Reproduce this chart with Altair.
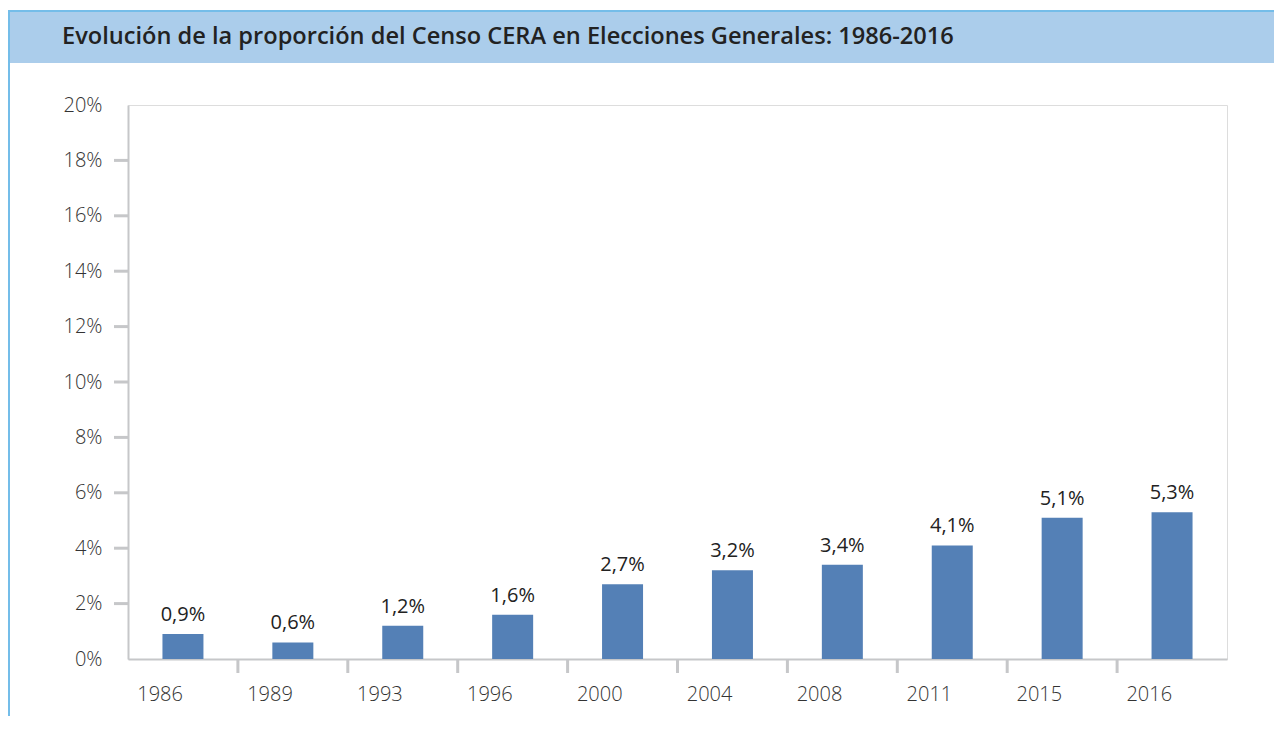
import altair as alt
import pandas as pd

years = ["1986", "1989", "1993", "1996", "2000", "2004", "2008", "2011", "2015", "2016"]
values = [0.9, 0.6, 1.2, 1.6, 2.7, 3.2, 3.4, 4.1, 5.1, 5.3]
y_ticks = [0, 2, 4, 6, 8, 10, 12, 14, 16, 18, 20]
y_tick_marks = [2, 4, 6, 8, 10, 12, 14, 16, 18]
title_text = "Evolución de la proporción del Censo CERA en Elecciones Generales: 1986-2016"

W, H = 1099, 554
PL, PT, PR, PB = 120, 97, 47, 57

df = pd.DataFrame({
    "year": years,
    "value": values,
    "label": [f"{v:.1f}".replace(".", ",") + "%" for v in values],
})
df_xt = pd.DataFrame({"year": years[1:]})
df_yt = pd.DataFrame({"v": y_tick_marks})

GRAY = "#c6c7c9"
FONT = "Open Sans"

xscale = alt.Scale(domain=years, paddingInner=0, paddingOuter=0)
yscale = alt.Scale(domain=[0, 20], nice=False)

bars = alt.Chart(df).mark_bar(size=41, color="#5480b6").encode(
    x=alt.X("year:O", scale=xscale, sort=years,
            axis=alt.Axis(title=None, labelAngle=0, ticks=False, domain=True,
                          domainColor=GRAY, domainWidth=2, labelPadding=35,
                          labelFont=FONT, labelFontSize=20, labelFontWeight=300,
                          labelColor="#333333")),
    y=alt.Y("value:Q", scale=yscale,
            axis=alt.Axis(title=None, values=y_ticks, ticks=False, grid=False,
                          domain=True, domainColor=GRAY, domainWidth=2,
                          labelPadding=26, labelExpr="datum.value + '%'",
                          labelFont=FONT, labelFontSize=20, labelFontWeight=300,
                          labelColor="#333333")),
)

labels = alt.Chart(df).mark_text(dy=-9, baseline="bottom", font=FONT, fontSize=20,
                                 color="#222222").encode(
    x=alt.X("year:O", scale=xscale, sort=years),
    y=alt.Y("value:Q", scale=yscale),
    text="label:N",
)

xticks = alt.Chart(df_xt).mark_rule(color=GRAY, strokeWidth=3).encode(
    x=alt.X("year:O", scale=xscale, sort=years, bandPosition=0),
    y=alt.value(H),
    y2=alt.value(H + 14),
)

yticks = alt.Chart(df_yt).mark_rule(color=GRAY, strokeWidth=3).encode(
    y=alt.Y("v:Q", scale=yscale),
    x=alt.value(-14),
    x2=alt.value(0),
)

header = alt.Chart(df_xt.head(1)).mark_rect(color="#abcdeb", clip=False).encode(
    x=alt.value(-PL), x2=alt.value(W + PR),
    y=alt.value(-95), y2=alt.value(-42),
)
header_line = alt.Chart(df_xt.head(1)).mark_rule(color="#74bde9", strokeWidth=2).encode(
    x=alt.value(-PL), x2=alt.value(W + PR),
    y=alt.value(-94),
)
left_line = alt.Chart(df_xt.head(1)).mark_rule(color="#74bde9", strokeWidth=2).encode(
    x=alt.value(-PL + 1), y=alt.value(-95), y2=alt.value(H + PB),
)
title = alt.Chart(df_xt.head(1)).mark_text(
    text=title_text, align="left", baseline="alphabetic", font=FONT,
    fontSize=23.6, fontWeight=600, color="#222222",
).encode(x=alt.value(-66), y=alt.value(-61))

chart = alt.layer(header, header_line, left_line, title, yticks, xticks, bars, labels).properties(
    width=W, height=H,
    padding={"left": PL, "top": PT, "right": PR, "bottom": PB},
    autosize=alt.AutoSizeParams(type="none"),
).configure_view(stroke=GRAY, strokeWidth=2).configure(background="white")

chart.save("out.html", embed_options={"renderer": "svg", "actions": False})
